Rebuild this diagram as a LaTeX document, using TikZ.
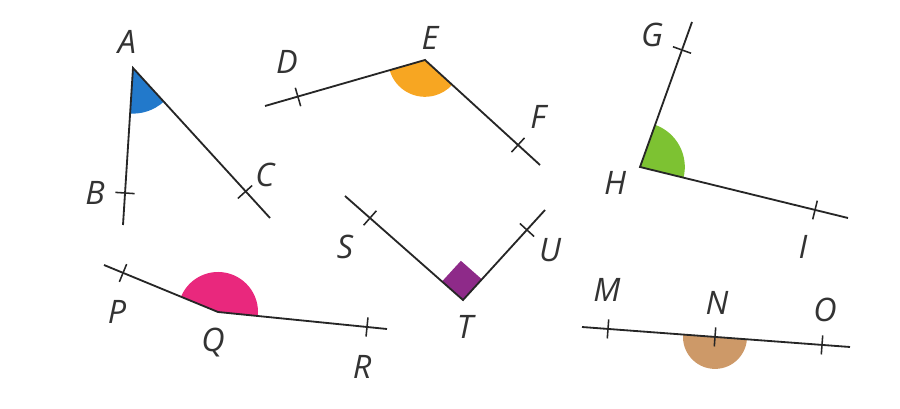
\documentclass[tikz,border=0pt]{standalone}
\usepackage{fontspec}
\setmainfont{Open Sans}
\usetikzlibrary{angles,calc}

\definecolor{sectorBlue}{RGB}{34,121,203}
\definecolor{sectorOrange}{RGB}{247,166,34}
\definecolor{sectorGreen}{RGB}{125,194,50}
\definecolor{sectorPink}{RGB}{233,40,125}
\definecolor{sectorPurple}{RGB}{142,42,137}
\definecolor{sectorBrown}{RGB}{205,153,104}

\begin{document}
\begin{tikzpicture}[
  x=0.025cm, y=0.025cm,
  seg/.style={line width=1.3pt, draw=black!85},
  tickmark/.style={line width=1.1pt, draw=black!85},
  lbl/.style={font=\fontsize{23}{27}\selectfont\itshape, text=black!80, inner sep=0pt},
  sector/.style={draw=none, fill=#1}
]
  \useasboundingbox (0,0) rectangle (900,408);

  % Puntos
  \coordinate (A) at (133,340);
  \coordinate (B) at (125,215);  \coordinate (Bend) at (123,183);
  \coordinate (C) at (245,216);  \coordinate (Cend) at (270,190);
  \coordinate (E) at (425,348);
  \coordinate (D) at (298,311);  \coordinate (Dend) at (265,302);
  \coordinate (F) at (518,263);  \coordinate (Fend) at (540,243);
  \coordinate (H) at (640,241);
  \coordinate (G) at (682,358);  \coordinate (Gend) at (692,386);
  \coordinate (I) at (815,198);  \coordinate (Iend) at (848,190);
  \coordinate (Q) at (218,96);
  \coordinate (P) at (123,135);  \coordinate (Pend) at (104,143);
  \coordinate (R) at (367,81);   \coordinate (Rend) at (387,79);
  \coordinate (T) at (463,108);
  \coordinate (S) at (370,190);  \coordinate (Send) at (345,212);
  \coordinate (U) at (527,178);  \coordinate (Uend) at (545,198);
  \coordinate (Mend) at (582,81);  \coordinate (Oend) at (850,61);
  \coordinate (M) at (608,79.1);
  \coordinate (N) at (715,71.1);
  \coordinate (O) at (822,63.1);

  % Sectores
  \pic[sector=sectorBlue, angle radius=1.14cm] {angle=B--A--C};
  \pic[sector=sectorOrange, angle radius=0.92cm] {angle=D--E--F};
  \pic[sector=sectorGreen, angle radius=1.12cm] {angle=I--H--G};
  \pic[sector=sectorPink, angle radius=1cm] {angle=R--Q--P};
  \pic[sector=sectorPurple, angle radius=0.7cm] {right angle=U--T--S};
  \pic[sector=sectorBrown, angle radius=0.8cm] {angle=M--N--O};

  % Segmentos
  \draw[seg] (Bend) -- (A) -- (Cend);
  \draw[seg] (Dend) -- (E) -- (Fend);
  \draw[seg] (Gend) -- (H) -- (Iend);
  \draw[seg] (Pend) -- (Q) -- (Rend);
  \draw[seg] (Send) -- (T) -- (Uend);
  \draw[seg] (Mend) -- (Oend);

  % Marcas
  \foreach \p/\q in {B/A, C/A, D/E, F/E, G/H, I/H, P/Q, R/Q, S/T, U/T, M/N, N/O, O/N} {
    \draw[tickmark] ($(\p)!0.24cm!90:(\q)$) -- ($(\p)!0.24cm!-90:(\q)$);
  }

  % Etiquetas
  \foreach \n/\x/\y in {A/127/366, B/95/215, C/265/233, D/287/346, E/430/370,
      F/538/291, G/652/373, H/615/225, I/803/161, P/117/96, Q/213/65,
      R/362/41, S/345/161, T/465/81, U/550/158, M/607/118, N/717/105, O/825/98} {
    \node[lbl] (l\n) at (\x,\y) {\n};
  }
\end{tikzpicture}
\end{document}
